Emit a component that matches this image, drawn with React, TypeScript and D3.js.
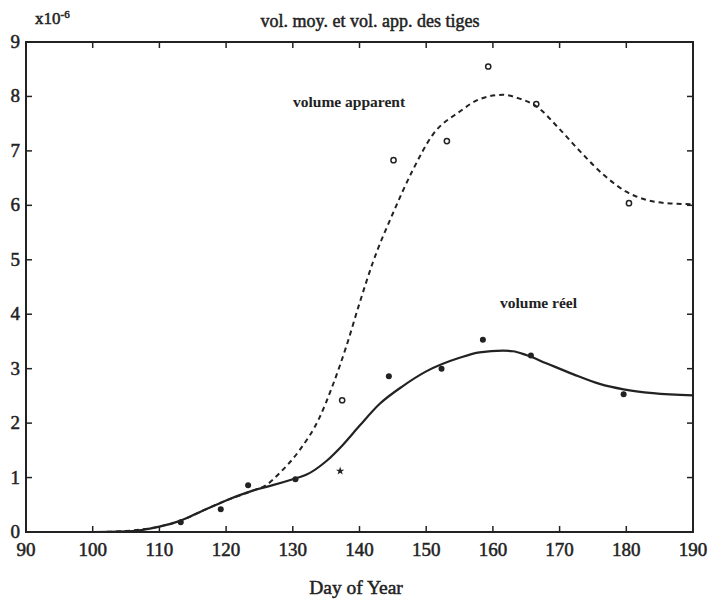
import React from "react";
import * as d3 from "d3";

const title = "vol. moy. et vol. app. des tiges";
const xLabel = "Day of Year";
const xTicks = [90, 100, 110, 120, 130, 140, 150, 160, 170, 180, 190];
const yTicks = [0, 1, 2, 3, 4, 5, 6, 7, 8, 9];

// observed points (x10^-6)
const apparentDays = [137.4, 145.1, 153.1, 159.3, 166.5, 180.4];
const apparentVals = [2.42, 6.83, 7.18, 8.55, 7.86, 6.04];

const reelDays = [113.2, 119.2, 123.3, 130.4, 144.4, 152.3, 158.5, 165.7, 179.6];
const reelVals = [0.18, 0.42, 0.86, 0.97, 2.86, 3.0, 3.53, 3.24, 2.53];
const reelStarDay = [137.1];
const reelStarVal = [1.12];

// fitted curves
const apparentCurveDays = [90, 100, 105, 110, 113, 117, 120, 124, 126, 128, 131, 134, 136, 138, 140, 142, 145, 148, 151, 155, 158, 161.5, 164, 166.5, 170, 173, 176.6, 180, 183, 186, 190];
const apparentCurveVals = [0, 0, 0.02, 0.1, 0.2, 0.42, 0.58, 0.76, 0.86, 1.08, 1.5, 2.1, 2.7, 3.4, 4.2, 4.95, 5.85, 6.65, 7.3, 7.72, 7.95, 8.03, 7.96, 7.82, 7.4, 7.0, 6.56, 6.25, 6.1, 6.04, 6.02];

const reelCurveDays = [90, 100, 105, 110, 113, 117, 120, 124, 127, 130, 132, 135, 137.5, 140, 143, 146.5, 150, 155, 158, 161.5, 163, 165, 168, 172, 176, 179.6, 184, 190];
const reelCurveVals = [0, 0, 0.01, 0.1, 0.2, 0.42, 0.58, 0.76, 0.86, 0.97, 1.05, 1.3, 1.6, 1.95, 2.35, 2.68, 2.95, 3.2, 3.3, 3.33, 3.32, 3.25, 3.1, 2.9, 2.72, 2.62, 2.55, 2.51];

const labelApparent = "volume apparent";
const labelReel = "volume réel";

export default function App() {
  const W = 710, H = 604;
  const left = 26, right = 693, top = 42, bottom = 532;
  const x = d3.scaleLinear().domain([90, 190]).range([left, right]);
  const y = d3.scaleLinear().domain([0, 9]).range([bottom, top]);
  const line = d3.line<[number, number]>().x(d => x(d[0])).y(d => y(d[1])).curve(d3.curveMonotoneX);
  const appPts = apparentCurveDays.map((d, i) => [d, apparentCurveVals[i]] as [number, number]);
  const reelPts = reelCurveDays.map((d, i) => [d, reelCurveVals[i]] as [number, number]);
  const font = "'Liberation Serif', 'DejaVu Serif', serif";
  const star = d3.symbol().type(d3.symbolStar).size(22)();
  const tl = 6;
  const ink = "#222";
  const heavy = { stroke: ink, strokeWidth: 0.5 } as const;
  return (
    <svg width={W} height={H} style={{ position: "absolute", left: 0, top: 0, background: "#fff" }} fontFamily={font}>
      <rect x={0} y={0} width={W} height={H} fill="#fff" />
      <text x={370} y={27} textAnchor="middle" fontSize={18} fill={ink} {...heavy}>{title}</text>
      <text x={35} y={24} fontSize={17} fill={ink} {...heavy}>x10<tspan fontSize={11} dy={-6}>-6</tspan></text>
      {/* frame */}
      <rect x={left} y={top} width={right - left} height={bottom - top} fill="none" stroke={ink} strokeWidth={2} />
      {xTicks.map(t => (
        <g key={"xt" + t}>
          <line x1={x(t)} x2={x(t)} y1={bottom} y2={bottom - tl} stroke={ink} strokeWidth={1.5} />
          <line x1={x(t)} x2={x(t)} y1={top} y2={top + tl} stroke={ink} strokeWidth={1.5} />
          <text x={x(t)} y={bottom + 24} textAnchor="middle" fontSize={19} fill={ink} {...heavy}>{t}</text>
        </g>
      ))}
      {yTicks.map(t => (
        <g key={"yt" + t}>
          <line x1={left} x2={left + tl} y1={y(t)} y2={y(t)} stroke={ink} strokeWidth={1.5} />
          <line x1={right} x2={right - tl} y1={y(t)} y2={y(t)} stroke={ink} strokeWidth={1.5} />
          <text x={left - 6} y={y(t) + 6} textAnchor="end" fontSize={19} fill={ink} {...heavy}>{t}</text>
        </g>
      ))}
      <text x={356} y={594} textAnchor="middle" fontSize={19.5} fill={ink} {...heavy}>{xLabel}</text>
      <path d={line(appPts) || ""} fill="none" stroke={ink} strokeWidth={2} strokeDasharray="5,4" />
      <path d={line(reelPts) || ""} fill="none" stroke={ink} strokeWidth={2.2} />
      {apparentDays.map((d, i) => (
        <circle key={"a" + i} cx={x(d)} cy={y(apparentVals[i])} r={2.6} fill="none" stroke={ink} strokeWidth={1.5} />
      ))}
      {reelDays.map((d, i) => (
        <circle key={"r" + i} cx={x(d)} cy={y(reelVals[i])} r={3} fill={ink} />
      ))}
      {reelStarDay.map((d, i) => (
        <path key={"s" + i} d={star || ""} transform={`translate(${x(d)},${y(reelStarVal[i])})`} fill={ink} />
      ))}
      <text x={293} y={107} fontSize={15.5} fontWeight="bold" fill={ink}>{labelApparent}</text>
      <text x={500} y={308} fontSize={15.5} fontWeight="bold" fill={ink}>{labelReel}</text>
    </svg>
  );
}
